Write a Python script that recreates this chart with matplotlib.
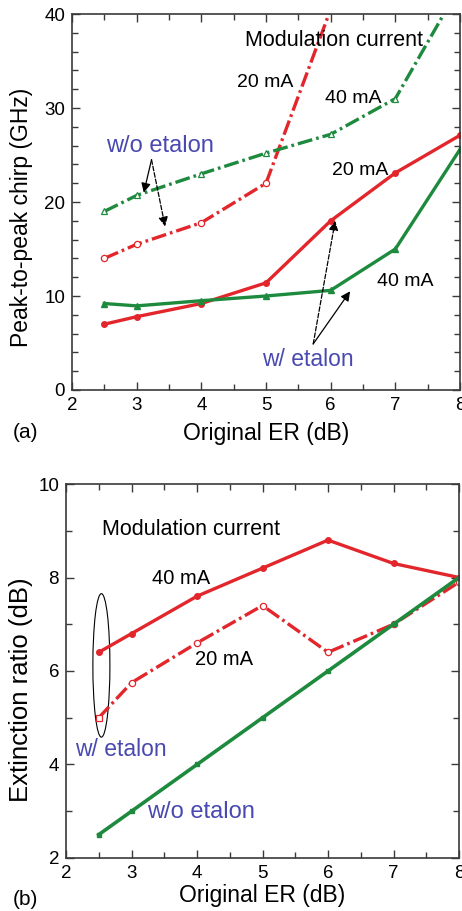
import numpy as np
import matplotlib
matplotlib.use('Agg')
import matplotlib.pyplot as plt
from matplotlib.patches import Ellipse
from matplotlib.ticker import MultipleLocator

plt.rcParams['font.family'] = ['Liberation Sans', 'DejaVu Sans']

# colours used throughout
red = '#e3262b'
green = '#1e8a3e'
blue = '#4949b0'
dashdot = (0, (4.5, 1.2, 0.8, 1.2))

# original extinction ratio (dB), common x for every curve
er = [2.5, 3, 4, 5, 6, 7, 8]

# (a) peak-to-peak chirp, GHz
chirp_20_etalon = [7.0, 7.8, 9.2, 11.4, 18.0, 23.1, 27.1]
chirp_40_etalon = [9.2, 8.95, 9.5, 10.0, 10.6, 15.0, 25.6]
chirp_20_no_etalon = [14.0, 15.5, 17.8, 22.0, 40.5]
er_20_no_etalon = [2.5, 3, 4, 5, 6]
chirp_40_no_etalon = [19.0, 20.7, 23.0, 25.2, 27.2, 31.0, 43.0]

# (b) output extinction ratio, dB
xr_40_etalon = [6.4, 6.8, 7.6, 8.2, 8.8, 8.3, 8.0]
xr_20_etalon = [5.0, 5.75, 6.6, 7.4, 6.4, 7.0, 7.9]
xr_no_etalon = [2.5, 3.0, 4.0, 5.0, 6.0, 7.0, 8.0]

fig = plt.figure(figsize=(4.62, 9.11), dpi=100)
ax1 = fig.add_axes([0.1558, 0.5719, 0.8399, 0.4127])
ax2 = fig.add_axes([0.1429, 0.0582, 0.8506, 0.4105])

for ax in (ax1, ax2):
    for s in ax.spines.values():
        s.set_color('#3a3a3a')
        s.set_linewidth(1.2)
    ax.tick_params(which='both', direction='in', top=True, right=True,
                   colors='#3a3a3a', labelcolor='black', labelsize=13.5, width=1.0)
    ax.tick_params(which='major', length=6, pad=5)
    ax.tick_params(which='minor', length=4)
    ax.set_xlim(2, 8)
    ax.xaxis.set_major_locator(MultipleLocator(1))
    ax.xaxis.set_minor_locator(MultipleLocator(0.5))

# ---------- (a) chirp ----------
ax1.set_ylim(0, 40)
ax1.yaxis.set_major_locator(MultipleLocator(10))
ax1.yaxis.set_minor_locator(MultipleLocator(2))

ax1.plot(er, chirp_20_etalon, color=red, lw=2.4, marker='o', ms=4)
ax1.plot(er, chirp_40_etalon, color=green, lw=2.4, marker='^', ms=4)
ax1.plot(er_20_no_etalon, chirp_20_no_etalon, color=red, lw=2.4, ls=dashdot,
         marker='o', ms=4.5, mfc='white', mew=0.9)
ax1.plot(er, chirp_40_no_etalon, color=green, lw=2.4, ls=dashdot,
         marker='^', ms=4.5, mfc='white', mew=0.9)

ax1.text(4.67, 37.2, 'Modulation current', fontsize=15.5, va='center')
ax1.text(4.55, 32.7, '20 mA', fontsize=14, va='center')
ax1.text(5.91, 31.0, '40 mA', fontsize=14, va='center')
ax1.text(6.02, 23.4, '20 mA', fontsize=14, va='center')
ax1.text(6.71, 11.5, '40 mA', fontsize=14, va='center')
ax1.text(2.53, 26.0, 'w/o etalon', fontsize=17, color=blue, va='center')
ax1.text(4.94, 3.2, 'w/ etalon', fontsize=16.5, color=blue, va='center')

arr = dict(arrowstyle='-|>', color='black', lw=0.9, mutation_scale=14,
           shrinkA=0, shrinkB=0)
ax1.annotate('', xy=(3.11, 21.0), xytext=(3.23, 24.5), arrowprops=arr)
ax1.annotate('', xy=(3.44, 17.4), xytext=(3.23, 24.5), arrowprops=dict(arr, ls='--'))
ax1.annotate('', xy=(6.07, 18.0), xytext=(5.73, 4.9), arrowprops=dict(arr, ls='--'))
ax1.annotate('', xy=(6.30, 10.5), xytext=(5.73, 4.9), arrowprops=arr)

ax1.set_xlabel('Original ER (dB)', fontsize=16.5, labelpad=6)
ax1.set_ylabel('Peak-to-peak chirp (GHz)', fontsize=16.5)
ax1.yaxis.set_label_coords(-0.10, 0.46)
fig.text(0.028, 0.525, '(a)', fontsize=15, va='center')

# ---------- (b) extinction ratio ----------
ax2.set_ylim(2, 10)
ax2.yaxis.set_major_locator(MultipleLocator(2))
ax2.yaxis.set_minor_locator(MultipleLocator(1))

ax2.plot(er, xr_40_etalon, color=red, lw=2.4, marker='o', ms=4)
ax2.plot(er, xr_20_etalon, color=red, lw=2.4, ls=dashdot)
ax2.plot(er[:1], xr_20_etalon[:1], ls='none', marker='s', ms=4.5,
         mfc='white', mec=red, mew=0.9)
ax2.plot(er[1:], xr_20_etalon[1:], ls='none', marker='o', ms=4.5,
         mfc='white', mec=red, mew=0.9)
ax2.plot(er, xr_no_etalon, color=green, lw=2.6, marker='s', ms=3.5)

ax2.add_patch(Ellipse((2.54, 6.12), 0.26, 3.07, fill=False, lw=0.8, ec='black'))

ax2.text(2.55, 9.02, 'Modulation current', fontsize=15.5, va='center')
ax2.text(3.31, 7.98, '40 mA', fontsize=14.5, va='center')
ax2.text(3.97, 6.24, '20 mA', fontsize=14.5, va='center')
ax2.text(2.14, 4.31, 'w/ etalon', fontsize=16.5, color=blue, va='center')
ax2.text(3.23, 2.99, 'w/o etalon', fontsize=17, color=blue, va='center')

ax2.set_xlabel('Original ER (dB)', fontsize=16.5, labelpad=1.5)
ax2.set_ylabel('Extinction ratio (dB)', fontsize=18.5)
ax2.yaxis.set_label_coords(-0.085, 0.45)
fig.text(0.028, 0.002, '(b)', fontsize=15, va='bottom')

fig.savefig('out.png', dpi=100)
